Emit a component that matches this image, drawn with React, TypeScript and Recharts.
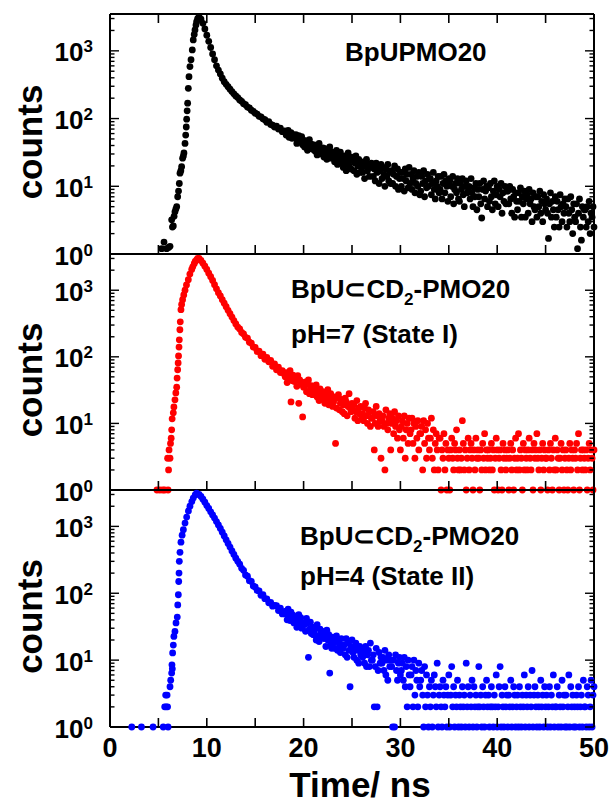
import { Scatter, ScatterChart, XAxis, YAxis } from "recharts"

const font = '"Liberation Sans", Arial, Helvetica, sans-serif'

const timeTicks = [0, 5, 10, 15, 20, 25, 30, 35, 40, 45, 50]
const countTicks = [
  1, 2, 3, 4, 5, 6, 7, 8, 9, 10, 20, 30, 40, 50, 60, 70, 80, 90, 100, 200, 300, 400, 500, 600, 700, 800,
  900, 1000, 2000, 3000,
]

// decay: 0.2 ns channels from 9.2 to 18.0 ns, then 0.1 ns channels from 18.1 to 50.0 ns
const earlyStartNs = 9.2
const earlyStepNs = 0.2
const tailStartNs = 18.1
const tailStepNs = 0.1

// BpUPMO20 (black)
const bpuRise = [
  [5.34, 1.2], [5.58, 1.5], [5.85, 1.2], [6.05, 1.25], [6.2, 1.3], [6.37, 3.2], [6.45, 2.5], [6.54, 2.6],
  [6.62, 3.6], [6.71, 4.2], [6.8, 4.6], [6.89, 5], [6.99, 7], [7.08, 8.5], [7.16, 11], [7.23, 15.6],
  [7.32, 17], [7.4, 19.5], [7.5, 26], [7.58, 28], [7.64, 31], [7.75, 43], [7.82, 57], [7.88, 75],
  [7.92, 98], [7.97, 130], [8.02, 169], [8.09, 280], [8.16, 415], [8.26, 585], [8.37, 740], [8.5, 1030],
  [8.6, 1450], [8.7, 1750], [8.78, 2040], [8.88, 2400], [8.95, 2700], [9.05, 3000],
]
const bpuEarly = [
  3200, 2950, 2550, 2100, 1700, 1380, 1120, 900, 740, 600,
  520, 455, 395, 350, 320, 295, 272, 250, 232, 216,
  204, 188, 180, 166, 160, 148, 144, 133, 128, 120,
  116, 108, 106, 99, 96, 88, 90, 82, 80, 75,
  77, 70, 72, 64, 66,
]
const bpuTail = [
  64, 57, 60, 67, 53, 59, 62, 51, 58, 55,
  52, 58, 43, 48, 56, 45, 50, 54, 41, 47,
  38, 47, 41, 34, 44, 49, 36, 42, 39, 35,
  41, 33, 36, 29, 38, 43, 30, 35, 32, 37,
  27, 36, 31, 25, 34, 29, 38, 26, 32, 28,
  31, 23, 27, 34, 21, 29, 25, 32, 22, 26,
  19, 28, 23, 17, 26, 31, 20, 24, 18, 27,
  24, 17, 22, 28, 15, 20, 25, 16, 23, 19,
  16, 23, 13, 20, 25, 17, 21, 14, 19, 22,
  20, 14, 18, 12, 22, 16, 19, 11, 17, 21,
  13, 19, 15, 10, 18, 14, 21, 12, 16, 11,
  17, 11, 15, 20, 10, 14, 18, 9, 13, 16,
  10, 16, 13, 8.5, 18, 12, 15, 9.5, 19, 11,
  15, 9, 13, 17, 8, 11, 14, 10, 16, 7.5,
  8.5, 14, 11, 17, 7, 12, 9.5, 15, 10, 13,
  13, 7.5, 11, 16, 9, 6.5, 12, 10, 14, 8,
  9, 14, 6.5, 11, 15, 8, 12, 10, 6, 13,
  12, 7, 10, 14, 5.5, 9, 11, 8, 13, 6.5,
  6, 11, 9, 13, 7.5, 5, 10, 12, 8, 9.5,
  10, 6.5, 13, 8, 5, 9.5, 7, 11, 4.5, 9,
  7, 11, 5.5, 3.4, 9, 12, 6.5, 8.5, 10, 5,
  9.5, 6, 11, 7, 4.5, 8.5, 12, 5.5, 7.5, 10,
  5, 9, 7, 11, 4, 8, 6, 10, 5.5, 8.5,
  8.5, 5.5, 10, 6.5, 4, 9, 7, 3.5, 8, 6,
  4.5, 8, 6, 9.5, 3.5, 7, 5.5, 8.5, 3.5, 6.5,
  7.5, 4, 9, 5.5, 6.5, 3, 8, 5, 4.5, 7,
  3.5, 7, 5, 8.5, 4, 6, 3, 7.5, 5.5, 4.5,
  6.5, 4, 1.7, 5.5, 8, 3.5, 6, 4.5, 2.5, 7,
  3.5, 6, 4.5, 2.5, 7.5, 5, 3, 5.5, 4, 6.5,
  5, 2.5, 6.5, 4, 3, 7, 4.5, 2, 5.5, 3.5,
  3, 5.5, 1.2, 4, 6.5, 2.5, 1.6, 5, 3.5, 4.5,
  4.5, 2.5, 5, 3, 6, 2, 4, 3.5, 5, 2.5,
]

// BpU⊂CD2-PMO20, pH=7 (red)
const ph7Rise = [
  [4.85, 1], [5.15, 1], [5.45, 1], [5.65, 1], [6.0, 1], [6.05, 2], [5.95, 3], [6.2, 3], [6.1, 4],
  [6.25, 5], [6.32, 6], [6.37, 8], [6.42, 11.7], [6.54, 14.4], [6.6, 17.7], [6.71, 22.6], [6.8, 28.7],
  [6.89, 35], [6.93, 48], [6.99, 64], [7.04, 81], [7.08, 103], [7.13, 140], [7.16, 180], [7.22, 255],
  [7.26, 335], [7.33, 510], [7.4, 610], [7.5, 720], [7.62, 850], [7.75, 1000], [7.9, 1200], [8.09, 1440],
  [8.25, 1750], [8.44, 2050], [8.55, 2250], [8.7, 2500], [8.8, 2700], [8.95, 2850], [9.06, 3000],
]
const ph7Early = [
  3000, 2800, 2550, 2300, 2050, 1800, 1600, 1400, 1210, 1050,
  920, 820, 720, 640, 565, 500, 445, 395, 350, 312,
  280, 262, 232, 220, 196, 190, 166, 160, 140, 138,
  120, 122, 104, 110, 92, 98, 84, 88, 72, 78,
  64, 70, 58, 62, 55,
]
const ph7Tail = [
  50, 58, 41, 55, 47, 62, 21, 44, 53, 43,
  43, 49, 36, 52, 20, 45, 39, 41, 12.5, 35,
  36, 42, 30, 39, 45, 28, 33, 37, 27, 34,
  29, 35, 38, 25, 31, 22, 33, 27, 23, 30,
  26, 20, 29, 24, 32, 19, 23, 28, 25, 18,
  21, 25, 5, 17, 24, 27, 16, 20, 23, 15,
  19, 14, 24, 21, 13, 18, 28, 17, 15, 20,
  16, 19, 12, 15, 22, 11, 17, 14, 18, 13,
  14, 11, 17, 20, 13, 10, 16, 15, 9, 12,
  12, 15, 4, 10, 18, 13, 9, 14, 11, 3,
  11, 13, 9, 2, 16, 10, 8, 12, 14, 4,
  10, 12, 7, 15, 9, 11, 6, 13, 8, 4,
  9, 11, 6, 13, 3, 8, 10, 5, 12, 7,
  8, 12, 5, 10, 3, 9, 6, 11, 4, 7,
  7, 9, 2, 11, 5, 8, 3, 10, 6, 4,
  6, 12, 3, 8, 2, 5, 7, 4, 2, 6,
  6, 1, 4, 3, 7, 2, 5, 1, 4, 3,
  1, 4, 6, 3, 2, 5, 4, 8, 3, 2,
  4, 2, 3, 11, 5, 2, 4, 1, 3, 6,
  2, 4, 5, 3, 1, 4, 2, 6, 3, 4,
  3, 1, 4, 2, 5, 3, 7, 2, 4, 3,
  4, 2, 3, 5, 2, 4, 1, 3, 6, 4,
  1, 3, 4, 2, 1, 5, 3, 4, 2, 3,
  4, 1, 3, 5, 2, 4, 1, 3, 6, 2,
  3, 7, 2, 4, 3, 1, 5, 2, 4, 3,
  2, 4, 6, 3, 2, 4, 1, 5, 3, 4,
  7, 3, 2, 4, 1, 3, 5, 2, 4, 3,
  3, 1, 4, 2, 5, 3, 1, 4, 2, 6,
  2, 4, 3, 1, 3, 5, 2, 4, 1, 3,
  4, 2, 1, 3, 5, 2, 4, 3, 1, 4,
  3, 5, 2, 7, 1, 3, 4, 2, 4, 3,
  2, 4, 1, 3, 5, 2, 4, 3, 1, 4,
]

// BpU⊂CD2-PMO20, pH=4 (blue)
const ph4Rise = [
  [2.25, 1], [3.25, 1], [4.45, 1], [5.5, 1], [6.0, 1], [5.65, 2], [5.8, 2], [5.95, 2], [5.75, 3], [5.9, 3],
  [6.2, 4], [6.27, 5], [6.37, 6.4], [6.44, 7.4], [6.4, 8.5], [6.47, 12.8], [6.54, 16.8], [6.6, 22.6],
  [6.71, 26.8], [6.82, 36], [6.95, 44], [7.0, 67], [7.06, 95], [7.1, 150], [7.13, 200], [7.16, 300],
  [7.23, 410], [7.33, 580], [7.45, 740], [7.58, 890], [7.75, 1120], [7.92, 1380], [8.1, 1700],
  [8.26, 2000], [8.45, 2350], [8.6, 2650], [8.8, 2950], [8.95, 3150],
]
const ph4Early = [
  3000, 2800, 2550, 2300, 2050, 1850, 1650, 1480, 1330, 1180,
  1050, 930, 820, 720, 630, 555, 490, 430, 380, 335,
  300, 272, 236, 220, 188, 180, 154, 150, 128, 124,
  110, 108, 93, 95, 83, 82, 72, 73, 64, 66,
  65, 55, 60, 49, 53,
]
const ph4Tail = [
  49, 54, 40, 58, 45, 39, 52, 43, 47, 36,
  40, 44, 31, 37, 48, 34, 43, 30, 33, 36,
  34, 27, 42, 36, 11, 29, 37, 25, 31, 24,
  26, 30, 20, 34, 23, 19, 29, 25, 22, 27,
  21, 25, 16, 28, 20, 24, 6.4, 18, 15, 22,
  18, 15, 20, 23, 14, 19, 17, 13, 21, 16,
  15, 17, 12, 21, 11, 18, 14, 4, 16, 20,
  13, 11, 15, 18, 10, 14, 9, 16, 12, 14,
  11, 13, 9, 16, 8, 12, 14, 8, 18, 10,
  10, 12, 2, 8, 15, 2, 7, 13, 9, 11,
  9, 11, 7, 14, 6, 10, 5, 12, 8, 10,
  8, 1, 10, 1, 12, 7, 5, 9, 11, 6,
  7, 9, 5, 11, 4, 8, 2, 10, 6, 4,
  6, 8, 2, 10, 3, 7, 5, 2, 9, 4,
  5, 7, 3, 1, 8, 2, 6, 3, 1, 4,
  2, 5, 1, 3, 6, 4, 2, 9, 1, 3,
  4, 2, 1, 5, 3, 2, 4, 1, 3, 6,
  1, 3, 8, 2, 4, 1, 3, 2, 5, 1,
  3, 2, 1, 4, 2, 3, 1, 9, 2, 4,
  1, 3, 2, 5, 1, 4, 2, 3, 1, 2,
  8, 2, 3, 1, 4, 2, 1, 3, 5, 2,
  3, 1, 2, 4, 2, 1, 3, 2, 6, 1,
  2, 4, 8, 1, 3, 2, 1, 4, 2, 3,
  1, 3, 2, 5, 1, 2, 4, 3, 1, 2,
  3, 1, 4, 2, 1, 3, 2, 6, 1, 3,
  2, 4, 1, 3, 2, 7, 1, 3, 4, 2,
  1, 3, 2, 1, 5, 2, 3, 1, 4, 2,
  3, 1, 2, 4, 1, 3, 2, 6, 1, 2,
  2, 4, 1, 3, 2, 1, 5, 2, 3, 1,
  3, 1, 2, 6, 1, 4, 2, 3, 1, 2,
  1, 3, 2, 4, 1, 2, 3, 1, 5, 2,
  2, 1, 4, 3, 1, 2, 5, 1, 3, 4,
]

type Pt = { t: number; v: number }

function toPoints(rise: number[][], early: number[], tail: number[]): Pt[] {
  const pts: Pt[] = rise.map(([t, v]) => ({ t, v }))
  early.forEach((v, i) => pts.push({ t: Math.round((earlyStartNs + i * earlyStepNs) * 100) / 100, v }))
  tail.forEach((v, i) => pts.push({ t: Math.round((tailStartNs + i * tailStepNs) * 100) / 100, v }))
  return pts.filter((p) => p.v > 0)
}

const isDecade = (v: number) => {
  const e = Math.log10(v)
  return Math.abs(e - Math.round(e)) < 1e-9
}

function XTick(props: any) {
  const { x, y, payload, dir, showTick, showLabel } = props
  const v = payload.value
  return (
    <g>
      {showTick && <line x1={x} x2={x} y1={y} y2={y + dir * 9} stroke="#000" strokeWidth={1.6} />}
      {showLabel && v % 10 === 0 && (
        <text x={x} y={y + 30} textAnchor="middle" fontFamily={font} fontWeight="bold" fontSize={27} fill="#000">
          {v}
        </text>
      )}
    </g>
  )
}

function YTick(props: any) {
  const { x, y, payload, dir, showLabel } = props
  const v = payload.value
  const major = isDecade(v)
  return (
    <g>
      <line x1={x} x2={x + dir * (major ? 9 : 4.5)} y1={y} y2={y} stroke="#000" strokeWidth={1.4} />
      {showLabel && major && (
        <text x={x - 17} y={y + 10.5} textAnchor="end" fontFamily={font} fontWeight="bold" fontSize={26} fill="#000">
          10
          <tspan fontSize={17} dy={-9}>
            {Math.round(Math.log10(v))}
          </tspan>
        </text>
      )}
    </g>
  )
}

const axisLine = { stroke: "#000", strokeWidth: 2 }

function Panel({ data, color, top, bottom, first, last }: any) {
  return (
    <div style={{ position: "absolute", left: 0, top: 0 }}>
      <ScatterChart width={612} height={805} margin={{ top: top - 1, right: 17, bottom: 805 - bottom - 1, left: 109 }}>
        <XAxis
          xAxisId="b"
          type="number"
          dataKey="t"
          domain={[0, 50]}
          ticks={timeTicks}
          interval={0}
          height={1}
          tickSize={0}
          tickMargin={0}
          axisLine={axisLine}
          tickLine={false}
          tick={(p: any) => <XTick {...p} dir={-1} showTick showLabel={last} />}
          label={
            last
              ? {
                  value: "Time/ ns",
                  content: (lp: any) => (
                    <text
                      x={lp.viewBox.x + lp.viewBox.width / 2 + 8}
                      y={lp.viewBox.y + 70}
                      textAnchor="middle"
                      fontFamily={font}
                      fontWeight="bold"
                      fontSize={35}
                      fill="#000"
                    >
                      Time/ ns
                    </text>
                  ),
                }
              : undefined
          }
        />
        <XAxis
          xAxisId="t"
          orientation="top"
          type="number"
          dataKey="t"
          domain={[0, 50]}
          allowDataOverflow
          ticks={timeTicks}
          interval={0}
          height={1}
          tickSize={0}
          tickMargin={0}
          axisLine={axisLine}
          tickLine={false}
          tick={(p: any) => <XTick {...p} dir={1} showTick={first} showLabel={false} />}
        />
        <YAxis
          yAxisId="l"
          type="number"
          dataKey="v"
          scale="log"
          domain={[1, 3500]}
          ticks={countTicks}
          interval={0}
          width={1}
          tickSize={0}
          tickMargin={0}
          axisLine={axisLine}
          tickLine={false}
          tick={(p: any) => <YTick {...p} dir={1} showLabel />}
          label={{
            value: "counts",
            content: (lp: any) => {
              const cx = lp.viewBox.x + lp.viewBox.width - 68
              const cy = lp.viewBox.y + lp.viewBox.height / 2 + 8
              return (
                <text
                  x={cx}
                  y={cy}
                  transform={`rotate(-90 ${cx} ${cy})`}
                  textAnchor="middle"
                  fontFamily={font}
                  fontWeight="bold"
                  fontSize={35}
                  fill="#000"
                >
                  counts
                </text>
              )
            },
          }}
        />
        <YAxis
          yAxisId="r"
          orientation="right"
          type="number"
          dataKey="v"
          scale="log"
          domain={[1, 3500]}
          allowDataOverflow
          ticks={countTicks}
          interval={0}
          width={1}
          tickSize={0}
          tickMargin={0}
          axisLine={axisLine}
          tickLine={false}
          tick={(p: any) => <YTick {...p} dir={-1} showLabel={false} />}
        />
        <Scatter
          xAxisId="b"
          yAxisId="l"
          data={data}
          isAnimationActive={false}
          shape={(p: any) => <circle cx={p.cx} cy={p.cy} r={3.4} fill={color} />}
        />
      </ScatterChart>
    </div>
  )
}

const bpuPoints = toPoints(bpuRise, bpuEarly, bpuTail)
const ph7Points = toPoints(ph7Rise, ph7Early, ph7Tail)
const ph4Points = toPoints(ph4Rise, ph4Early, ph4Tail)

const note = { fontFamily: font, fontWeight: "bold" as const, fontSize: 26, fill: "#000" }

export default function App() {
  return (
    <div style={{ position: "absolute", left: 0, top: 0, width: 612, height: 805, background: "#fff" }}>
      <Panel data={bpuPoints} color="#000000" top={14} bottom={254} first />
      <Panel data={ph7Points} color="#ff0000" top={254} bottom={490} />
      <Panel data={ph4Points} color="#0000ff" top={490} bottom={727} last />
      <svg width={612} height={805} style={{ position: "absolute", left: 0, top: 0, pointerEvents: "none" }}>
        <text x={345} y={61} {...note}>
          BpUPMO20
        </text>
        <text x={291} y={298} {...note}>
          BpU⊂CD
          <tspan fontSize={17} dy={7}>
            2
          </tspan>
          <tspan dy={-7}>-PMO20</tspan>
        </text>
        <text x={291} y={343} {...note}>
          pH=7 (State I)
        </text>
        <text x={300} y={545} {...note}>
          BpU⊂CD
          <tspan fontSize={17} dy={7}>
            2
          </tspan>
          <tspan dy={-7}>-PMO20</tspan>
        </text>
        <text x={300} y={585} {...note}>
          pH=4 (State II)
        </text>
      </svg>
    </div>
  )
}
